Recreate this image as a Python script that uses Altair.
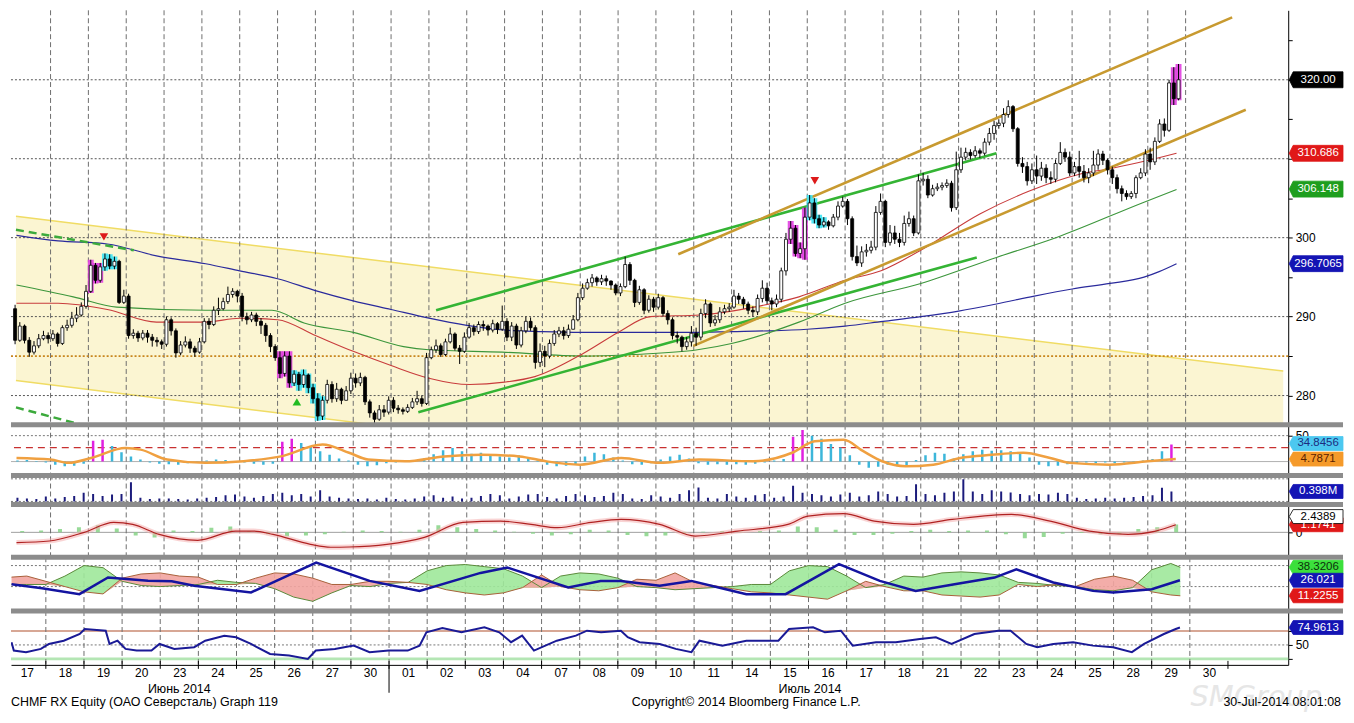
import altair as alt
import pandas as pd

FONT = "Liberation Sans"
W = 1282
X0, X1 = 0.086, 33.58
H_MAIN, H_P2, H_P3, H_P4, H_P5, H_P6, H_FOOT = 416, 51, 29, 53, 54, 54, 42
BADGE_W = 54
BARS_PER_DAY = 8

DAY_LABELS = ["17", "18", "19", "20", "23", "24", "25", "26", "27", "30", "01", "02", "03", "04",
              "07", "08", "09", "10", "11", "14", "15", "16", "17", "18", "21", "22", "23", "24",
              "25", "28", "29", "30"]
MONTH_LABELS = ["Июнь 2014", "Июль 2014"]
MONTH_POS = [4.5, 21.04]
MONTH_SPLIT = 10
FOOT_LEFT = "CHMF RX Equity (ОАО Северсталь) Graph 119"
FOOT_MID = "Copyright© 2014 Bloomberg Finance L.P."
FOOT_RIGHT = "30-Jul-2014 08:01:08"
WATERMARK = "SMGroup"

# ---------------- price bars (8 per day) ----------------
OPEN0 = 291.0
CLOSE = [
    287.0, 288.8, 287.0, 285.5, 286.3, 287.2, 287.6, 287.2,
    287.8, 286.6, 288.6, 288.9, 289.8, 290.2, 291.3, 293.2,
    296.5, 294.6, 296.3, 297.3, 296.4, 297.0, 291.8, 292.6,
    287.6, 287.9, 287.3, 287.9, 287.4, 287.0, 286.8, 286.5,
    289.6, 288.2, 285.4, 286.4, 286.8, 286.0, 285.5, 286.8,
    289.4, 289.0, 290.8, 291.0, 291.9, 292.8, 293.2, 292.6,
    290.0, 289.6, 290.2, 289.4, 288.9, 287.6, 286.2, 284.8,
    282.8, 285.0, 281.6, 282.7, 281.4, 282.6, 281.0, 279.6,
    277.4, 279.4, 281.4, 279.6, 280.8, 279.4, 280.6, 282.2,
    281.6, 282.3, 279.2, 277.8, 277.0, 278.2, 277.9, 279.4,
    278.4, 278.2, 278.0, 278.5, 279.2, 279.6, 279.0, 284.8,
    285.8, 286.3, 285.2, 286.8, 287.8, 286.0, 285.6, 287.4,
    288.6, 288.1, 289.0, 288.8, 288.3, 289.1, 288.4, 289.4,
    287.4, 288.8, 286.4, 288.2, 289.4, 288.6, 284.2, 285.6,
    285.0, 286.6, 287.8, 288.2, 287.6, 288.4, 289.6, 292.4,
    293.6, 294.3, 294.9, 294.4, 294.8, 294.5, 294.0, 293.0,
    293.8, 296.6, 294.6, 291.8, 293.4, 290.8, 292.2, 291.2,
    292.4, 290.4, 289.6, 287.6, 287.4, 286.2, 286.8, 287.9,
    287.4, 290.4, 291.6, 289.2, 289.6, 290.6, 291.0, 291.2,
    292.6, 292.2, 291.6, 290.8, 290.6, 292.3, 293.6, 292.0,
    291.6, 292.2, 295.8, 299.8, 301.2, 298.0, 298.6, 302.6,
    304.4, 302.4, 301.6, 302.0, 301.5, 302.6, 304.0, 304.6,
    302.4, 297.6, 296.8, 298.2, 298.4, 298.8, 303.2, 304.6,
    299.4, 300.6, 299.8, 299.4, 301.8, 302.4, 300.6, 307.2,
    307.4, 305.4, 306.2, 306.4, 306.6, 306.9, 303.8, 308.6,
    310.2, 310.8, 310.4, 311.0, 310.7, 312.1, 313.2, 314.2,
    314.5, 315.6, 316.6, 313.8, 309.4, 309.0, 307.2, 308.6,
    307.8, 308.8, 307.6, 307.4, 309.4, 310.8, 310.2, 308.2,
    309.0, 308.4, 307.6, 308.2, 309.2, 310.6, 309.8, 308.6,
    307.6, 306.2, 305.6, 305.2, 305.6, 307.6, 308.2, 310.6,
    309.6, 312.2, 314.4, 313.6, 319.6, 317.6, 320.0,
]
HIGH = [
    291.5, 289.3, 289.0, 287.4, 286.9, 287.8, 288.2, 288.0,
    288.3, 288.0, 288.9, 289.6, 290.6, 291.2, 291.8, 294.0,
    297.2, 296.8, 296.8, 298.0, 297.9, 297.6, 297.2, 293.4,
    292.9, 288.4, 288.2, 288.3, 288.3, 287.8, 287.4, 287.1,
    290.0, 289.9, 288.5, 286.9, 287.5, 287.2, 286.3, 287.3,
    289.8, 289.8, 291.3, 292.4, 292.4, 293.8, 293.6, 293.4,
    293.0, 290.5, 290.6, 290.5, 289.8, 289.2, 287.9, 286.5,
    285.6, 285.6, 285.6, 283.2, 283.0, 283.3, 282.8, 281.5,
    280.3, 279.9, 282.0, 281.8, 281.6, 281.0, 281.2, 282.9,
    282.8, 282.9, 282.5, 279.5, 278.1, 278.8, 278.8, 279.9,
    279.8, 278.8, 278.5, 278.9, 279.7, 280.6, 280.0, 285.4,
    286.2, 287.1, 286.6, 287.2, 288.6, 288.0, 286.4, 288.0,
    289.2, 289.0, 289.4, 289.5, 289.0, 289.6, 289.3, 291.4,
    289.8, 289.3, 289.1, 288.7, 290.0, 289.9, 288.9, 286.6,
    286.3, 287.1, 288.3, 288.7, 288.7, 289.0, 290.2, 293.0,
    294.2, 294.8, 295.4, 295.1, 295.3, 295.2, 294.6, 294.2,
    294.2, 297.6, 296.9, 294.8, 293.9, 293.6, 292.7, 292.5,
    292.9, 292.6, 290.8, 289.9, 288.1, 287.6, 287.4, 288.8,
    288.6, 291.0, 292.2, 291.8, 290.2, 291.2, 291.5, 291.7,
    293.4, 293.0, 292.5, 291.9, 291.3, 292.8, 294.6, 294.3,
    292.4, 292.8, 296.2, 300.6, 302.1, 301.6, 299.4, 303.8,
    305.4, 305.0, 302.9, 302.6, 302.2, 303.0, 304.6, 305.2,
    304.9, 302.7, 299.0, 298.9, 299.2, 299.6, 304.0, 305.6,
    304.8, 301.6, 301.5, 300.6, 302.8, 303.3, 302.8, 308.0,
    308.2, 307.9, 306.7, 306.9, 307.0, 307.4, 307.2, 310.9,
    311.4, 311.4, 311.2, 311.6, 311.3, 312.6, 313.9, 314.8,
    315.0, 316.4, 317.4, 316.8, 314.0, 310.2, 309.6, 309.4,
    310.4, 309.6, 309.3, 308.4, 309.9, 312.1, 311.3, 310.9,
    309.6, 311.0, 309.2, 308.8, 311.0, 311.2, 311.0, 310.0,
    309.0, 308.0, 306.6, 306.0, 305.9, 307.9, 308.8, 311.2,
    311.4, 312.7, 315.0, 315.1, 320.0, 321.6, 322.0,
]
LOW = [
    286.5, 286.8, 286.6, 284.9, 285.2, 286.0, 287.0, 286.6,
    286.9, 286.2, 286.4, 288.2, 288.6, 289.3, 290.0, 291.0,
    293.0, 294.2, 294.3, 295.8, 296.0, 296.0, 291.6, 291.6,
    287.2, 287.2, 286.8, 287.0, 286.7, 286.2, 286.2, 285.9,
    286.2, 287.6, 284.8, 285.1, 286.1, 285.4, 284.9, 285.3,
    286.6, 288.4, 288.8, 290.2, 290.8, 291.6, 292.4, 291.8,
    289.4, 289.0, 289.3, 288.8, 287.8, 286.8, 285.5, 284.4,
    282.2, 282.4, 281.0, 281.2, 280.6, 281.0, 280.3, 279.0,
    276.8, 276.9, 279.0, 279.1, 279.2, 278.9, 279.4, 280.2,
    281.0, 281.2, 278.8, 277.2, 276.4, 276.8, 277.3, 277.6,
    277.9, 277.7, 277.6, 277.8, 278.3, 278.8, 278.6, 278.8,
    284.6, 285.4, 284.9, 285.0, 286.6, 285.7, 284.0, 285.4,
    287.2, 287.6, 287.8, 288.2, 287.6, 288.0, 287.8, 288.2,
    286.9, 286.9, 285.9, 286.1, 287.9, 288.2, 283.4, 283.6,
    283.6, 284.7, 286.3, 287.4, 287.1, 287.3, 288.4, 289.4,
    292.1, 293.4, 293.8, 293.9, 294.0, 293.9, 293.4, 292.7,
    292.6, 293.6, 294.0, 291.2, 291.5, 290.3, 290.5, 290.6,
    290.9, 290.0, 289.0, 287.1, 286.6, 285.6, 285.8, 286.2,
    286.3, 287.0, 289.8, 288.7, 288.8, 289.2, 290.3, 290.6,
    291.0, 291.6, 291.0, 290.3, 290.0, 290.2, 291.8, 291.6,
    290.8, 291.2, 291.8, 295.2, 299.2, 297.6, 297.4, 297.2,
    302.2, 301.8, 301.2, 301.3, 301.0, 301.3, 302.2, 303.8,
    301.6, 297.1, 296.4, 296.3, 297.6, 298.0, 298.4, 302.9,
    298.8, 299.0, 299.2, 298.8, 299.0, 301.4, 300.2, 300.4,
    306.6, 305.0, 305.2, 305.9, 306.0, 306.3, 303.3, 303.5,
    308.2, 309.8, 309.9, 310.1, 310.1, 310.4, 311.7, 312.4,
    313.8, 314.0, 315.2, 313.4, 309.0, 308.2, 306.6, 306.8,
    306.8, 307.2, 306.9, 306.8, 307.0, 309.2, 309.6, 307.8,
    307.8, 307.6, 307.0, 306.9, 307.8, 308.6, 309.2, 308.0,
    306.8, 305.6, 304.6, 304.8, 304.9, 305.0, 307.4, 307.8,
    308.6, 309.2, 312.0, 312.8, 313.4, 316.8, 317.4,
]
MAGENTA_BARS = [16, 17, 18, 56, 57, 58, 164, 165, 166, 167, 245, 246]
CYAN_BARS = [19, 20, 21, 59, 60, 61, 62, 63, 64, 65, 168, 169, 170, 171]

# moving averages (day position, price)
MA_BLUE = [(0.1, 300.3), (1.2, 299.6), (2.5, 299.2), (3.8, 297.7), (5.1, 296.7), (6.0, 295.8),
           (7.0, 294.8), (8.0, 293.3), (9.0, 292.0), (10.0, 290.9), (11.0, 289.8), (12.0, 288.9),
           (13.0, 288.3), (14.0, 288.1), (15.0, 288.0), (16.0, 288.0), (17.0, 288.0), (18.0, 288.0),
           (19.0, 288.1), (20.0, 288.2), (21.0, 288.4), (22.0, 288.8), (23.0, 289.4), (24.0, 290.0),
           (25.0, 290.7), (26.0, 291.6), (27.0, 292.6), (28.0, 293.5), (29.0, 294.2), (29.9, 295.0),
           (30.3, 295.7), (30.76, 296.7)]
MA_RED = [(0.1, 291.7), (1.2, 291.7), (2.5, 290.9), (3.8, 289.3), (5.1, 289.3), (6.0, 289.8),
          (7.0, 289.6), (8.0, 287.6), (9.0, 285.6), (10.0, 283.8), (11.0, 282.2), (12.08, 281.4),
          (13.0, 281.7), (13.8, 282.4), (15.1, 285.4), (16.0, 288.0), (16.86, 290.0), (18.17, 290.2),
          (19.47, 291.1), (20.78, 292.5), (22.0, 294.6), (22.95, 295.8), (24.0, 298.4), (25.56, 303.0),
          (26.87, 305.9), (28.17, 308.0), (29.06, 308.8), (29.93, 309.7), (30.76, 310.7)]
MA_GREEN = [(0.1, 294.0), (1.6, 292.5), (2.75, 291.2), (5.1, 290.8), (6.85, 290.8), (7.7, 289.2),
            (9.0, 288.0), (10.33, 286.2), (11.0, 285.8), (12.94, 285.5), (15.1, 285.0), (16.4, 285.2),
            (18.1, 285.8), (19.0, 286.6), (20.78, 289.3), (22.0, 291.7), (24.0, 294.2), (26.0, 297.5),
            (27.57, 300.0), (29.85, 304.4), (30.76, 306.1)]

# trend lines (day position, price)
YELLOW_UPPER = [(0.086, 302.7), (33.58, 283.1)]
YELLOW_LOWER = [(0.086, 281.9), (33.58, 262.1)]
GREEN_LOWER = [(10.72, 277.9), (25.48, 297.5)]
GREEN_UPPER = [(11.19, 290.8), (26.0, 310.7)]
ORANGE_UPPER = [(17.59, 297.9), (32.23, 327.9)]
ORANGE_LOWER = [(17.99, 286.3), (32.59, 316.2)]
GREEN_DASH_TOP = [(0.086, 301.0), (3.2, 298.4)]
GREEN_DASH_BOTTOM = [(0.086, 278.5), (2.05, 276.0)]
LEVEL_285 = [285]
MAIN_GRID = [280, 290, 300, 310, 320]
SIGNAL_DOWN = [(2.41, 300.1), (21.2, 307.2)]
SIGNAL_UP = [(7.51, 279.2)]

# panel 2 oscillator: histogram 4 per day, smooth line
P2_HIST = [
    2, 3, 1, -2, -6, -9, -8, -4, 40, 42, 30, 18, 10, 4, -2, -4, -5, -6, -3, -1, 2, 4, 3, 1,
    -2, -4, -6, -4, 38, 44, 36, 28, 20, 13, 6, 2, -6, -9, -7, -3, -2, 1, 3, 6, 14, 22, 26, 20,
    15, 17, 14, 10, 8, 12, 6, 2, -6, -9, -8, -5, 10, 17, 14, 8, 2, -5, -6, -3, 4, 10, 13, 6,
    -3, -6, -5, -6, -5, -6, -4, -2, 2, 5, 48, 61, 50, 44, 34, 27, 12, -6, -12, -10, -6, -9, -8, 3,
    12, 17, 15, 6, 14, 20, 23, 21, 22, 20, 16, 8, -6, -9, -8, -5, -3, -2, -3, -2, -3, -2, -1, 2,
    5, 20, 33,
]
P2_MAGENTA = [8, 9, 28, 29, 82, 83, 122]
P2_LINE = [(0.1, 7), (1.0, 4), (1.47, -2.5), (2.07, 7), (2.98, 26), (3.38, 23), (4.08, 4), (5.08, -2.5),
           (6.1, 0.6), (7.09, 10), (8.19, 33), (8.89, 17), (9.39, 4), (10.38, 0.6), (11.4, 10), (12.4, 13),
           (13.39, 10), (14.09, 0.6), (15.0, -6), (16.08, 7), (17.1, -2.5), (18.14, 4), (19.58, 0.6),
           (20.6, 17), (21.2, 39), (21.96, 42), (22.48, 20), (22.98, 0.6), (23.6, -9), (24.33, -6),
           (25.04, 7), (25.88, 13), (26.71, 17), (27.42, 7), (27.94, -2.5), (28.99, -6), (30.0, 0.6),
           (30.74, 4.79)]

# panel 3 volume (millions), 4 per day
VOLUME = [
    0.15, 0.12, 0.10, 0.20, 0.12, 0.18, 0.22, 0.35, 0.30, 0.22, 0.28, 0.30, 0.76, 0.15, 0.10, 0.12,
    0.12, 0.10, 0.08, 0.12, 0.15, 0.18, 0.25, 0.28, 0.20, 0.15, 0.22, 0.30, 0.35, 0.25, 0.30, 0.20,
    0.45, 0.20, 0.15, 0.12, 0.10, 0.12, 0.08, 0.15, 0.10, 0.08, 0.12, 0.20, 0.25, 0.15, 0.20, 0.12,
    0.15, 0.22, 0.30, 0.25, 0.12, 0.20, 0.28, 0.30, 0.18, 0.12, 0.22, 0.30, 0.25, 0.18, 0.22, 0.35,
    0.30, 0.12, 0.10, 0.25, 0.20, 0.15, 0.30, 0.45, 0.56, 0.15, 0.12, 0.30, 0.20, 0.15, 0.25, 0.30,
    0.15, 0.20, 0.62, 0.35, 0.30, 0.25, 0.20, 0.28, 0.35, 0.20, 0.25, 0.40, 0.30, 0.20, 0.22, 0.68,
    0.30, 0.25, 0.35, 0.40, 0.88, 0.40, 0.30, 0.45, 0.40, 0.36, 0.30, 0.25, 0.30, 0.28, 0.35, 0.30,
    0.15, 0.10, 0.12, 0.15, 0.12, 0.15, 0.18, 0.22, 0.25, 0.55, 0.40,
]

# panel 4 MACD: signal line and histogram (2 per day)
MACD_SIGNAL = [(0.1, -1.58), (0.97, -1.34), (1.89, 0.0), (2.67, 1.54), (3.17, 1.23), (3.87, -0.31),
               (4.89, -1.23), (5.89, 0.2), (6.38, 0.2), (6.88, -0.31), (7.87, -1.85), (8.4, -2.3),
               (8.89, -2.26), (9.89, -1.85), (10.88, -0.77), (11.9, 1.54), (12.89, 1.74), (13.7, 1.23),
               (14.4, 0.72), (15.29, 1.54), (16.08, 2.0), (17.1, 1.23), (18.04, -0.57), (19.16, 0.2),
               (20.49, 1.23), (21.02, 2.5), (21.96, 2.88), (22.77, 1.74), (23.81, 1.23), (24.83, 2.0),
               (26.4, 2.77), (27.42, 1.74), (28.46, 0.2), (29.48, -0.31), (30.21, 0.2), (30.74, 1.17)]
MACD_HIST = [0.2, 0.3, 0.5, 0.8, 1.1, 0.6, -0.5, -0.8, 0.3, 0.2, 0.7, 0.9, 0.2, -0.3, -0.6, -0.5,
             -0.3, 0.1, 0.3, 0.2, 0.1, 0.4, 1.1, 0.8, 0.5, 0.3, 0.1, -0.2, -0.5, -0.3, 0.4, 0.3,
             -0.4, -0.6, -0.5, -0.2, 0.1, 0.2, 0.1, 0.2, 0.3, 0.9, 0.8, 0.4, -0.4, -0.4, -0.2, 0.2,
             0.4, 0.2, 0.3, 0.3, -0.3, -0.9, -0.7, -0.2, -0.1, -0.3, -0.3, 0.5, 0.8, 1.2]

# panel 5 directional movement: (day, DI+, DI-) and ADX
DMI = [(0.1, 22, 29), (0.5, 22, 30), (1.0, 22, 25), (1.5, 30, 20), (2.0, 40, 15), (2.5, 38, 13),
       (3.0, 25, 28), (3.5, 21, 32), (4.0, 20, 33), (4.5, 21, 30), (5.0, 22, 29), (5.5, 26, 22),
       (6.0, 24, 22), (6.5, 23, 28), (7.0, 18, 33), (7.5, 10, 32), (8.0, 6, 28), (8.5, 14, 22),
       (9.0, 21, 22), (9.5, 20, 25), (10.0, 23, 25), (10.5, 24, 24), (11.0, 35, 22), (11.5, 40, 17),
       (12.0, 41, 14), (12.5, 39, 12), (13.0, 37, 14), (13.5, 30, 19), (14.0, 19, 31), (14.5, 30, 20),
       (15.0, 33, 17), (15.5, 32, 16), (16.0, 28, 19), (16.5, 20, 27), (17.0, 19, 26), (17.5, 17, 33),
       (18.0, 18, 24), (18.5, 19, 21), (19.0, 20, 18), (19.5, 22, 15), (20.0, 22, 14), (20.5, 35, 12),
       (21.0, 40, 10), (21.5, 39, 8), (22.0, 30, 16), (22.5, 19, 25), (23.0, 22, 20), (23.5, 30, 16),
       (24.0, 29, 16), (24.5, 33, 12), (25.0, 34, 11), (25.5, 33, 10), (26.0, 31, 12), (26.5, 24, 22),
       (27.0, 23, 20), (27.5, 21, 22), (28.0, 20, 20), (28.5, 17, 27), (29.0, 16, 30), (29.5, 19, 26),
       (30.0, 36, 15), (30.5, 42, 12), (30.75, 38.32, 11.23)]
ADX = [(0.1, 22.3), (0.9, 18.5), (1.88, 12.8), (2.63, 28.6), (3.68, 25.5), (4.3, 25.0), (4.89, 20.7),
       (6.38, 14.4), (8.09, 42.9), (9.49, 25.4), (10.8, 15.9), (12.4, 33.0), (13.1, 38.1), (14.7, 19.2),
       (15.55, 25.4), (16.08, 25.4), (17.1, 20.7), (17.93, 25.4), (18.64, 19.2), (19.37, 12.8),
       (20.4, 12.8), (21.8, 41.3), (22.87, 25.4), (23.81, 15.9), (24.83, 22.3), (25.88, 28.6),
       (26.45, 36.5), (27.42, 23.9), (28.46, 15.9), (28.99, 14.4), (30.0, 17.5), (30.74, 26.0)]

# panel 6 RSI
RSI = [(0.1, 53.9), (0.16, 41.9), (0.48, 39.6), (0.87, 44.3), (1.08, 51.4), (1.47, 56.1), (1.89, 65.7),
       (2.02, 72.9), (2.57, 70.4), (2.67, 51.4), (2.88, 56.1), (3.09, 44.3), (3.38, 41.9), (3.77, 41.9),
       (3.98, 51.4), (4.37, 44.3), (4.89, 46.7), (5.18, 56.1), (5.68, 63.3), (5.99, 61.0), (6.38, 51.4),
       (6.88, 37.1), (7.38, 34.7), (7.87, 30.0), (8.08, 41.9), (8.58, 44.3), (9.07, 49.0), (9.49, 39.6),
       (9.99, 41.9), (10.49, 41.9), (10.8, 49.0), (10.98, 68.1), (11.4, 74.3), (11.9, 68.1), (12.5, 75.3),
       (12.89, 68.1), (13.2, 53.9), (13.49, 63.3), (13.8, 41.9), (14.4, 56.1), (14.9, 63.3), (15.19, 70.4),
       (15.56, 68.1), (16.08, 70.4), (16.26, 61.0), (16.57, 53.9), (17.1, 51.4), (17.52, 44.3),
       (17.93, 39.6), (18.14, 56.1), (18.74, 49.0), (19.37, 56.1), (20.21, 56.1), (20.49, 72.9),
       (21.12, 75.3), (21.43, 68.1), (21.85, 70.4), (22.16, 49.0), (22.77, 53.9), (23.29, 53.9),
       (23.92, 58.6), (24.34, 61.0), (24.75, 51.4), (25.35, 65.7), (25.98, 70.4), (26.3, 70.4),
       (26.71, 51.4), (27.0, 46.7), (27.42, 51.4), (27.94, 53.9), (28.46, 49.0), (28.99, 46.7),
       (29.48, 39.6), (29.8, 51.4), (30.32, 65.7), (30.63, 72.9), (30.74, 74.96)]

# right-hand value tags: (value, text, background, text colour, border)
TAGS_MAIN = [(320.0, "320.00", "#000000", "#ffffff", "#000000"),
             (310.686, "310.686", "#e01818", "#ffffff", "#e01818"),
             (306.148, "306.148", "#1e9e1e", "#ffffff", "#1e9e1e"),
             (296.7065, "296.7065", "#1414b4", "#ffffff", "#1414b4")]
TAGS_P2 = [(34.8456, "34.8456", "#4cc8f0", "#1c2c80", "#4cc8f0"),
           (4.7871, "4.7871", "#f59a2a", "#5a2000", "#f59a2a")]
TAGS_P3 = [(0.398, "0.398M", "#1414b4", "#ffffff", "#1414b4")]
TAGS_P4 = [(1.1741, "1.1741", "#e01818", "#ffffff", "#e01818"),
           (2.4389, "2.4389", "#ffffff", "#000000", "#000000")]
TAGS_P5 = [(38.3206, "38.3206", "#3ce03c", "#0c300c", "#3ce03c"),
           (26.021, "26.021", "#1414b4", "#ffffff", "#1414b4"),
           (11.2255, "11.2255", "#e01818", "#ffffff", "#e01818")]
TAGS_P6 = [(74.9613, "74.9613", "#1414b4", "#ffffff", "#1414b4")]

# ---------------- helpers ----------------
xs = alt.Scale(domain=[X0, X1], nice=False, zero=False)
ONE = pd.DataFrame({"k": [0]})
BOUND_DF = pd.DataFrame({"b": list(range(1, 32))})


def make_x(axis):
    def X(field):
        return alt.X(field, type="quantitative", scale=xs, axis=axis)
    return X


def make_y(domain, axis):
    sc = alt.Scale(domain=domain, nice=False, zero=False)

    def Y(field):
        return alt.Y(field, type="quantitative", scale=sc, axis=axis)
    return Y


def right_axis(**kw):
    base = dict(orient="right", title=None, grid=False, domain=True, domainColor="black",
                tickColor="black", tickSize=4, labelFont=FONT, labelFontSize=12,
                labelColor="black", labelPadding=3)
    base.update(kw)
    return alt.Axis(**base)


def line(pairs, X, Y, **kw):
    df = pd.DataFrame(pairs, columns=["d", "v"])
    return alt.Chart(df).mark_line(clip=True, **kw).encode(x=X("d"), y=Y("v"))


def hrule(vals, Y, **kw):
    return alt.Chart(pd.DataFrame({"v": vals})).mark_rule(**kw).encode(y=Y("v"))


def vgrid(X):
    return alt.Chart(BOUND_DF).mark_rule(color="#6e6e6e", strokeDash=[5, 3], strokeWidth=1).encode(x=X("b"))


def separator():
    return alt.Chart(ONE).mark_rule(color="#8c8c8c", strokeWidth=5).encode(
        x=alt.value(0), x2=alt.value(W + BADGE_W + 1), y=alt.value(0))


def tags(rows, Y, h):
    df = pd.DataFrame(rows, columns=["v", "t", "bg", "fg", "bd"])
    r = h / 2.0
    tip = 4.0 / r
    wu = BADGE_W / r
    path = f"M0,0L{tip:.4f},-1L{wu:.4f},-1L{wu:.4f},1L{tip:.4f},1Z"
    shp = alt.Chart(df).mark_point(shape=path, size=h * h, filled=True, opacity=1, strokeWidth=0.8).encode(
        x=alt.value(W + 1), y=Y("v"),
        fill=alt.Fill("bg:N", scale=None), stroke=alt.Stroke("bd:N", scale=None))
    txt = alt.Chart(df).mark_text(font=FONT, fontSize=11.5, align="center", baseline="middle").encode(
        x=alt.value(W + 1 + 4 + (BADGE_W - 4) / 2.0), y=Y("v"), text="t:N",
        color=alt.Color("fg:N", scale=None))
    return [shp, txt]


# ---------------- main price panel ----------------
Xn = make_x(None)
Ym = make_y([276.3, 328.8], right_axis(values=[280, 285, 290, 295, 300, 305, 310, 315, 320, 325],
                                       labelExpr="(datum.value % 10 == 0 && datum.value <= 300) ? datum.label : ''"))

n = min(len(CLOSE), len(HIGH), len(LOW))
rows = []
prev = OPEN0
for i in range(n):
    day, k = divmod(i, BARS_PER_DAY)
    o, c = prev, CLOSE[i]
    hl = "m" if i in MAGENTA_BARS else ("c" if i in CYAN_BARS else "")
    rows.append({"x": day + (k + 0.5) / BARS_PER_DAY, "o": o, "c": c,
                 "h": max(HIGH[i], o, c), "l": min(LOW[i], o, c),
                 "fc": "#ffffff" if c >= o else "#000000", "hl": hl})
    prev = c
candles = pd.DataFrame(rows)
glow_df = candles[candles["hl"] != ""].copy()
glow_df["gc"] = glow_df["hl"].map({"m": "#e040e0", "c": "#40e4f4"})

yband = pd.DataFrame({"d": [p[0] for p in YELLOW_UPPER], "u": [p[1] for p in YELLOW_UPPER],
                      "l": [p[1] for p in YELLOW_LOWER]})

main_layers = [
    alt.Chart(yband).mark_area(color="#fbf5d2", clip=True).encode(x=Xn("d"), y=Ym("u"), y2="l"),
    line(YELLOW_UPPER, Xn, Ym, color="#f0dc64", strokeWidth=1.5),
    line(YELLOW_LOWER, Xn, Ym, color="#f0dc64", strokeWidth=1.5),
    hrule(MAIN_GRID, Ym, color="#555555", strokeDash=[2, 2], strokeWidth=1),
    vgrid(Xn),
    hrule(LEVEL_285, Ym, color="#c8861e", strokeDash=[2, 2], strokeWidth=1.6),
    line(MA_BLUE, Xn, Ym, color="#2a2a9c", strokeWidth=1.2, interpolate="monotone"),
    line(MA_GREEN, Xn, Ym, color="#3c963c", strokeWidth=1.1, interpolate="monotone"),
    line(MA_RED, Xn, Ym, color="#c83c3c", strokeWidth=1.1, interpolate="monotone"),
    line(GREEN_DASH_TOP, Xn, Ym, color="#3caa3c", strokeWidth=2.5, strokeDash=[8, 5]),
    line(GREEN_DASH_BOTTOM, Xn, Ym, color="#3caa3c", strokeWidth=2.5, strokeDash=[8, 5]),
    line(GREEN_LOWER, Xn, Ym, color="#34b434", strokeWidth=2.6),
    line(GREEN_UPPER, Xn, Ym, color="#34b434", strokeWidth=2.6),
    line(ORANGE_UPPER, Xn, Ym, color="#c89a30", strokeWidth=2.6),
    line(ORANGE_LOWER, Xn, Ym, color="#c89a30", strokeWidth=2.6),
    alt.Chart(glow_df).mark_bar(width=6, clip=True, opacity=0.9).encode(
        x=Xn("x"), y=Ym("l"), y2="h", color=alt.Color("gc:N", scale=None)),
    alt.Chart(candles).mark_rule(color="black", strokeWidth=1, clip=True).encode(x=Xn("x"), y=Ym("l"), y2="h"),
    alt.Chart(candles).mark_bar(width=3, stroke="black", strokeWidth=0.8, clip=True).encode(
        x=Xn("x"), y=Ym("o"), y2="c", fill=alt.Fill("fc:N", scale=None)),
    alt.Chart(pd.DataFrame(SIGNAL_DOWN, columns=["d", "v"])).mark_point(
        shape="triangle-down", filled=True, size=75, color="#dd1a1a", opacity=1).encode(x=Xn("d"), y=Ym("v")),
    alt.Chart(pd.DataFrame(SIGNAL_UP, columns=["d", "v"])).mark_point(
        shape="triangle-up", filled=True, size=75, color="#22bb22", opacity=1).encode(x=Xn("d"), y=Ym("v")),
] + tags(TAGS_MAIN, Ym, 16)
main = alt.layer(*main_layers).properties(width=W, height=H_MAIN)

# ---------------- panel 2 ----------------
Y2 = make_y([-27, 71], right_axis(values=[50]))
p2_df = pd.DataFrame({"d": [i * 0.25 + 0.125 for i in range(len(P2_HIST))], "v": P2_HIST})
p2_df["col"] = ["#e020e0" if i in P2_MAGENTA else "#3cb6da" for i in range(len(P2_HIST))]
p2 = alt.layer(
    hrule([50], Y2, color="#777777", strokeDash=[2, 2]),
    hrule([27], Y2, color="#c83030", strokeDash=[7, 5], strokeWidth=1.2),
    hrule([0], Y2, color="#b0b0b0"),
    vgrid(Xn),
    alt.Chart(p2_df).mark_bar(width=2.5, clip=True).encode(
        x=Xn("d"), y=Y2("v"), y2=alt.datum(0), color=alt.Color("col:N", scale=None)),
    line(P2_LINE, Xn, Y2, color="#f0a040", strokeWidth=2.5, interpolate="monotone"),
    separator(),
    *tags(TAGS_P2, Y2, 14),
).properties(width=W, height=H_P2)

# ---------------- panel 3 volume ----------------
Y3 = make_y([-0.12, 1.03], right_axis(labels=False, ticks=False))
vol_df = pd.DataFrame({"d": [i * 0.25 + 0.125 for i in range(len(VOLUME))], "v": VOLUME})
p3 = alt.layer(
    hrule([0.9, 0.0], Y3, color="#777777", strokeDash=[2, 2]),
    vgrid(Xn),
    alt.Chart(vol_df).mark_bar(width=2, color="#1c1c7c", clip=True).encode(x=Xn("d"), y=Y3("v"), y2=alt.datum(0)),
    separator(),
    *tags(TAGS_P3, Y3, 14),
).properties(width=W, height=H_P3)

# ---------------- panel 4 MACD ----------------
Y4 = make_y([-3.85, 4.31], right_axis(values=[0]))
mh_df = pd.DataFrame({"d": [i * 0.5 + 0.25 for i in range(len(MACD_HIST))], "v": MACD_HIST})
p4 = alt.layer(
    hrule([0], Y4, color="#a0a0a0"),
    vgrid(Xn),
    alt.Chart(mh_df).mark_bar(width=4, color="#86d486", opacity=0.85, clip=True).encode(
        x=Xn("d"), y=Y4("v"), y2=alt.datum(0)),
    line(MACD_SIGNAL, Xn, Y4, color="#f4b0b0", strokeWidth=5, opacity=0.55, interpolate="monotone"),
    line(MACD_SIGNAL, Xn, Y4, color="#b02222", strokeWidth=1.2, interpolate="monotone"),
    separator(),
    *tags(TAGS_P4, Y4, 14),
).properties(width=W, height=H_P4)

# ---------------- panel 5 DMI ----------------
Y5 = make_y([-3.3, 47.9], right_axis(labels=False, ticks=False))
dmi_df = pd.DataFrame(DMI, columns=["d", "dip", "dim"])
dmi_df["lo"] = dmi_df[["dip", "dim"]].min(axis=1)
p5 = alt.layer(
    hrule([40, 20], Y5, color="#777777", strokeDash=[2, 2]),
    vgrid(Xn),
    alt.Chart(dmi_df).mark_area(color="#9ee89a", opacity=0.9, clip=True).encode(x=Xn("d"), y=Y5("dip"), y2="lo"),
    alt.Chart(dmi_df).mark_area(color="#f2a4a0", opacity=0.9, clip=True).encode(x=Xn("d"), y=Y5("dim"), y2="lo"),
    alt.Chart(dmi_df).mark_line(color="#5a8a3a", strokeWidth=1, clip=True).encode(x=Xn("d"), y=Y5("dip")),
    alt.Chart(dmi_df).mark_line(color="#a8603a", strokeWidth=1, clip=True).encode(x=Xn("d"), y=Y5("dim")),
    line(ADX, Xn, Y5, color="#1414a0", strokeWidth=2.5),
    separator(),
    *tags(TAGS_P5, Y5, 14),
).properties(width=W, height=H_P5)

# ---------------- panel 6 RSI ----------------
x_expr = "[" + ",".join(f"'{s}'" for s in DAY_LABELS) + "][floor(datum.value)]"
X6 = make_x(alt.Axis(orient="bottom", values=[i + 0.5 for i in range(len(DAY_LABELS))], labelExpr=x_expr,
                     ticks=False, domain=True, domainColor="black", grid=False, labelFlush=False,
                     labelOverlap=False, labelFont=FONT, labelFontSize=12, labelColor="black",
                     labelPadding=3, title=None))
Y6 = make_y([21.4, 98.6], right_axis(values=[30, 50, 70], labelExpr="datum.value == 50 ? datum.label : ''"))
p6 = alt.layer(
    hrule([30], Y6, color="#b4e6b4", strokeWidth=3),
    hrule([50], Y6, color="#777777", strokeDash=[2, 2]),
    hrule([70], Y6, color="#b0502c", strokeWidth=1.2),
    vgrid(X6),
    alt.Chart(pd.DataFrame({"b": list(range(1, 33))})).mark_rule(color="black").encode(
        x=X6("b"), y=alt.value(H_P6 - 4), y2=alt.value(H_P6 + 4)),
    line(RSI, X6, Y6, color="#1a1a96", strokeWidth=2),
    separator(),
    *tags(TAGS_P6, Y6, 14),
).properties(width=W, height=H_P6)

# ---------------- footer ----------------
foot = alt.layer(
    alt.Chart(ONE).mark_text(text=WATERMARK, font="DejaVu Sans", fontSize=29, fontStyle="italic",
                             color="#e6e6e6", align="center", baseline="middle").encode(
        x=alt.value(1250), y=alt.value(32)),
    alt.Chart(pd.DataFrame({"b": [MONTH_SPLIT]})).mark_rule(color="black").encode(
        x=Xn("b"), y=alt.value(0), y2=alt.value(28)),
    alt.Chart(pd.DataFrame({"d": MONTH_POS, "t": MONTH_LABELS})).mark_text(
        font=FONT, fontSize=12.5, baseline="middle", color="black").encode(x=Xn("d"), y=alt.value(24), text="t:N"),
    alt.Chart(ONE).mark_text(text=FOOT_LEFT, font=FONT, fontSize=12.5, align="left", baseline="middle",
                             color="black").encode(x=alt.value(0), y=alt.value(37)),
    alt.Chart(ONE).mark_text(text=FOOT_MID, font=FONT, fontSize=12.5, align="center", baseline="middle",
                             color="black").encode(x=alt.value(738), y=alt.value(37)),
    alt.Chart(ONE).mark_text(text=FOOT_RIGHT, font=FONT, fontSize=12.5, align="right", baseline="middle",
                             color="black").encode(x=alt.value(W + BADGE_W - 1), y=alt.value(37)),
).properties(width=W, height=H_FOOT)

chart = alt.vconcat(main, p2, p3, p4, p5, p6, foot, spacing=0, bounds="flush").properties(
    padding=0, background="white").configure_view(strokeWidth=0)

chart.save("out.html", embed_options={"renderer": "svg", "actions": False})
